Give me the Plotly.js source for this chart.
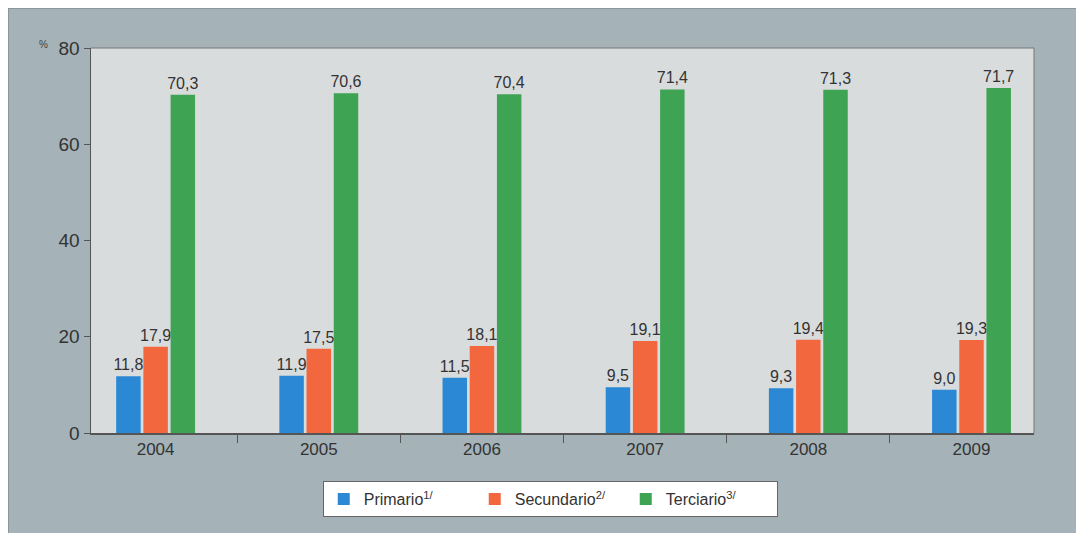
<!DOCTYPE html>
<html>
<head>
<meta charset="utf-8">
<script src="https://cdn.plot.ly/plotly-3.0.1.min.js"></script>
<style>
html,body{margin:0;padding:0;background:#ffffff;width:1076px;height:533px;overflow:hidden;}
#chart{position:absolute;left:8px;top:8px;width:1068px;height:525px;border-left:1px solid #8a989d;border-top:1px solid #8a989d;box-sizing:border-box;background:#a5b2b7;}
</style>
</head>
<body>
<div id="chart"></div>
<script>
const years = ['2004','2005','2006','2007','2008','2009'];
const primario = [11.8, 11.9, 11.5, 9.5, 9.3, 9.0];
const secundario = [17.9, 17.5, 18.1, 19.1, 19.4, 19.3];
const terciario = [70.3, 70.6, 70.4, 71.4, 71.3, 71.7];
const seriesNames = ['Primario<sup>1/</sup>', 'Secundario<sup>2/</sup>', 'Terciario<sup>3/</sup>'];
const colors = ['#2b88d4', '#f2673e', '#3ea352'];

const textFont = {family: 'Liberation Sans, Arial, sans-serif', size: 16, color: '#333333'};
function mk(vals, i) {
  return {
    type: 'bar', x: years, y: vals, name: seriesNames[i],
    marker: {color: colors[i]},
    texttemplate: '%{y:.1f}', textposition: 'outside', textfont: textFont,
    constraintext: 'none', cliponaxis: false, hoverinfo: 'skip'
  };
}
const data = [mk(primario,0), mk(secundario,1), mk(terciario,2)];

const layout = {
  width: 1067, height: 524,
  margin: {l: 82, r: 42, t: 39, b: 100},
  paper_bgcolor: '#a5b2b7',
  plot_bgcolor: '#d9dcdd',
  separators: ',.',
  barmode: 'group', bargap: 0.5, bargroupgap: 0.1,
  font: {family: 'Liberation Sans, Arial, sans-serif', color: '#333333'},
  xaxis: {
    type: 'category', range: [-0.396, 5.383],
    showline: true, linecolor: '#555555', linewidth: 1.5, mirror: false,
    ticks: 'outside', tickson: 'boundaries', ticklen: 8, tickcolor: '#555555',
    tickfont: {size: 17, color: '#333333'}, showgrid: false, fixedrange: true
  },
  yaxis: {
    range: [0, 80], dtick: 20, tick0: 0,
    showline: true, linecolor: '#555555', linewidth: 1.5,
    ticks: 'outside', ticklen: 6, tickcolor: '#555555',
    tickfont: {size: 19, color: '#333333'}, showgrid: false, zeroline: false, fixedrange: true
  },
  shapes: [
    {type: 'line', xref: 'paper', yref: 'paper', x0: 0, x1: 1, y0: 1, y1: 1, line: {color: '#777777', width: 1}},
    {type: 'line', xref: 'paper', yref: 'paper', x0: 1, x1: 1, y0: 0, y1: 1, line: {color: '#777777', width: 1}}
  ],
  annotations: [
    {text: '%', xref: 'paper', yref: 'paper', x: -0.05, y: 1.008, xanchor: 'center', yanchor: 'middle', showarrow: false, font: {size: 10, color: '#444444'}}
  ],
  showlegend: true,
  legend: {
    orientation: 'h', x: 0.487, xanchor: 'center', y: -0.125, yanchor: 'top',
    bgcolor: '#ffffff', bordercolor: '#666666', borderwidth: 1,
    font: {size: 16, color: '#333333'}, itemwidth: 30, traceorder: 'normal',
    entrywidth: 106
  }
};
Plotly.newPlot('chart', data, layout, {displayModeBar: false, staticPlot: true});
</script>
</body>
</html>
